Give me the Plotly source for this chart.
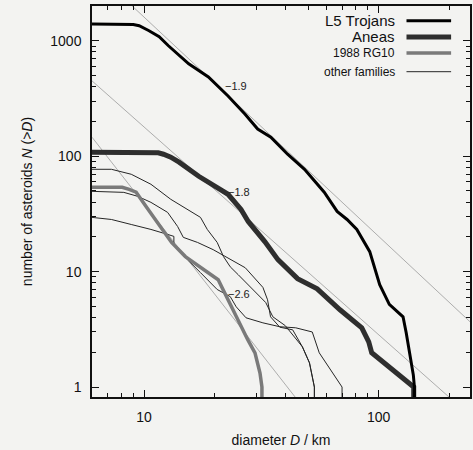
import math
import plotly.graph_objects as go

# ---- data ----
l5_D = [6.0, 8.3, 9.0, 9.53, 10.5, 11.6, 12.7, 15.5, 18.8, 22.8, 26.9, 30.5, 34.7, 40.9, 48.3,
        58.6, 66.5, 73.3, 80.7, 91.6, 101, 111, 127, 131, 140.5, 142, 142]
l5_N = [1400, 1400, 1385, 1349, 1222, 1083, 905, 631, 486, 332, 232, 172, 146, 104, 77,
        48.7, 33.2, 28.3, 23.2, 14.9, 7.7, 5.2, 4.06, 2.95, 1.27, 1.0, 0.5]

an_D = [6.0, 10.5, 11.5, 12.1, 13.0, 14.1, 17.1, 20.1, 22.8, 25.9, 27.8, 32.7, 37.2, 45.1,
        54.7, 68.4, 84.7, 90.7, 93.4, 141, 141]
an_N = [108, 108, 107, 104, 98, 88.7, 67, 54.8, 46.8, 34.6, 27.2, 18.2, 12.7, 8.7,
        7.1, 4.67, 3.26, 2.46, 1.98, 1.0, 0.5]

rg_D = [6.0, 8.07, 8.64, 9.25, 10.2, 11.2, 13.1, 15.0, 17.1, 20.7, 22.8, 24.7, 27.7, 29.7,
        31.2, 31.8, 31.8]
rg_N = [53.8, 53.8, 51.5, 48.7, 36.7, 28.3, 17.9, 13.5, 11.1, 8.5, 5.7, 4.06, 2.56, 1.98,
        1.32, 1.0, 0.5]

fa_D = [6.0, 7.26, 8.82, 10.7, 13.0, 15.8, 17.4, 18.6, 20.5, 21.8, 23.3, 25.2, 28.3, 33.0,
        35.4, 40.0, 47.3, 50.7, 53.2, 53.2]
fa_N = [77, 77, 69.7, 57.1, 42.3, 33.2, 29.5, 23.2, 17.9, 13.5, 11.0, 9.4, 7.4, 5.4,
        4.06, 3.4, 2.23, 1.62, 1.0, 0.5]

fb_D = [6.0, 8.2, 9.4, 10.7, 12.6, 13.9, 14.7, 16.9, 19.7, 23.3, 27.0, 32.1, 33.6, 34.6,
        37.9, 43.0, 47.3, 50.7, 53.2, 53.2]
fb_N = [49.6, 48.6, 44.9, 39.8, 32.6, 24.6, 19.8, 17.9, 15.5, 12.7, 10.8, 7.3, 5.7, 4.06,
        3.3, 3.13, 2.23, 1.62, 1.0, 0.5]

fc_D = [6.0, 7.26, 8.82, 10.7, 12.6, 13.4, 13.4, 15.3, 17.4, 20.5, 23.3, 24.7, 27.2, 32.1,
        37.9, 44.3, 52.1, 55.8, 69.8, 69.8]
fc_N = [29.5, 28.3, 25.6, 23.2, 21.0, 20.2, 17.2, 12.7, 9.8, 7.0, 6.07, 4.96, 3.98, 3.6,
        3.33, 3.26, 3.0, 1.98, 1.0, 0.5]

# power-law fits: slope, anchor diameter, anchor count
fit_slopes = [-1.9, -1.8, -2.6]
fit_anchor_D = [8.9, 6.0, 6.0]
fit_anchor_N = [2000, 449, 146]
fit_labels = ["\u22121.9", "\u22121.8", "\u22122.6"]
fit_label_D = [21.8, 22.4, 22.4]
fit_label_N = [406, 48.7, 6.44]

x_tick_vals = [10, 100]
x_minor_vals = [6, 7, 8, 9, 20, 30, 40, 50, 60, 70, 80, 90, 200]
y_tick_vals = [1, 10, 100, 1000]
y_minor_vals = [2, 3, 4, 5, 6, 7, 8, 9, 20, 30, 40, 50, 60, 70, 80, 90,
                200, 300, 400, 500, 600, 700, 800, 900, 2000]

legend_names = ["L5 Trojans", "Aneas", "1988 RG10", "other families"]

X_MIN, X_MAX = 6.0, 245.0
Y_MIN, Y_MAX = 0.82, 2000.0

FONT = "Liberation Sans, Arial, Helvetica, sans-serif"
BG = "#f3f3f1"

fig = go.Figure()

# fit lines
for s, d0, n0 in zip(fit_slopes, fit_anchor_D, fit_anchor_N):
    d_end = X_MAX
    n_end = n0 * (d_end / d0) ** s
    fig.add_trace(go.Scatter(x=[d0, d_end], y=[n0, n_end], mode="lines",
                             line=dict(color="#9a9a9a", width=0.8),
                             showlegend=False, hoverinfo="skip"))

styles = {
    "other": dict(color="#262626", width=1.0),
    "rg": dict(color="#7a7a7a", width=3.5),
    "an": dict(color="#2e2e2e", width=5),
    "l5": dict(color="#000000", width=3),
}

for D, N in [(fa_D, fa_N), (fb_D, fb_N), (fc_D, fc_N)]:
    fig.add_trace(go.Scatter(x=D, y=N, mode="lines", line=styles["other"],
                             showlegend=False))
fig.add_trace(go.Scatter(x=rg_D, y=rg_N, mode="lines", line=styles["rg"], showlegend=False))
fig.add_trace(go.Scatter(x=an_D, y=an_N, mode="lines", line=styles["an"], showlegend=False))
fig.add_trace(go.Scatter(x=l5_D, y=l5_N, mode="lines", line=styles["l5"], showlegend=False))

annotations = []
for t, d, n in zip(fit_labels, fit_label_D, fit_label_N):
    annotations.append(dict(x=math.log10(d), y=math.log10(n), xref="x", yref="y",
                            text=t, showarrow=False, xanchor="left", yanchor="middle",
                            font=dict(size=11, color="#222", family=FONT)))

# custom legend (text left, sample right)
leg_y = [0.962, 0.921, 0.880, 0.832]
leg_size = [15, 15, 12, 12]
leg_style = [styles["l5"], styles["an"], styles["rg"], styles["other"]]
shapes = []
for name, yy, fs, st in zip(legend_names, leg_y, leg_size, leg_style):
    annotations.append(dict(x=0.808, y=yy, xref="paper", yref="paper", text=name,
                            showarrow=False, xanchor="right", yanchor="middle",
                            font=dict(size=fs, color="#111", family=FONT)))
    shapes.append(dict(type="line", xref="paper", yref="paper", x0=0.832, x1=0.95,
                       y0=yy, y1=yy, line=dict(color=st["color"], width=st["width"])))

fig.update_layout(
    width=473, height=450,
    margin=dict(l=92, r=1, t=6, b=53),
    paper_bgcolor=BG, plot_bgcolor=BG,
    font=dict(family=FONT, size=14, color="#111"),
    annotations=annotations, shapes=shapes,
    showlegend=False,
)

axis_common = dict(type="log", showgrid=False, zeroline=False, showline=True,
                   linecolor="#111", linewidth=1.5, mirror="allticks",
                   ticks="inside", ticklen=7, tickwidth=1, tickcolor="#111",
                   tickfont=dict(size=14, family=FONT, color="#111"))

fig.update_xaxes(**axis_common, range=[math.log10(X_MIN), math.log10(X_MAX)],
                 tickvals=x_tick_vals, ticktext=[str(v) for v in x_tick_vals],
                 minor=dict(tickvals=x_minor_vals, ticks="inside", ticklen=4,
                            tickcolor="#111", tickwidth=1, showgrid=False),
                 title=dict(text="diameter <i>D</i> / km", standoff=12,
                            font=dict(size=14, family=FONT)),
                 ticklabelstandoff=6)
fig.update_yaxes(**axis_common, range=[math.log10(Y_MIN), math.log10(Y_MAX)],
                 tickvals=y_tick_vals, ticktext=[str(v) for v in y_tick_vals],
                 minor=dict(tickvals=y_minor_vals, ticks="inside", ticklen=4,
                            tickcolor="#111", tickwidth=1, showgrid=False),
                 title=dict(text="number of asteroids <i>N</i> (&gt;<i>D</i>)", standoff=14,
                            font=dict(size=14, family=FONT)),
                 ticklabelstandoff=6)

fig.write_html("out.html")
